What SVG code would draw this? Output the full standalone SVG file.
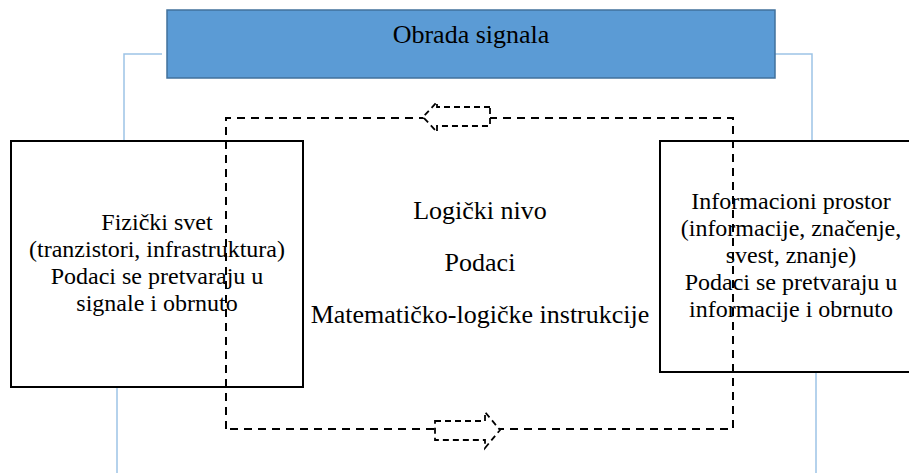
<svg xmlns="http://www.w3.org/2000/svg" width="909" height="473" viewBox="0 0 909 473">
<style>
.box{fill:none;stroke:#000;stroke-width:2}
.link{fill:none;stroke:#9DC3E6;stroke-width:1.5}
.dash{fill:none;stroke:#000;stroke-width:2;stroke-dasharray:8 6}
.arr{fill:#fff;stroke:#000;stroke-width:1.8;stroke-dasharray:6 4}
text{font-family:'Liberation Serif','Times New Roman',serif;text-anchor:middle;fill:#000}
.big{font-size:26px}
.mid{font-size:24px}
</style>
<rect width="909" height="473" fill="#fff"/>
<g id="connectors">
<path class="link" d="M162 54 H124 V141"/>
<path class="link" d="M775 54 H812 V141"/>
<path class="link" d="M117 388 V473"/>
<path class="link" d="M816 372 V473"/>
</g>
<g id="obrada">
<rect x="167" y="10" width="608" height="68" fill="#5B9BD5" stroke="#41719C" stroke-width="1.5"/>
<text class="big" x="471" y="43">Obrada signala</text>
</g>
<g id="fizicki">
<rect class="box" x="11" y="141" width="292" height="246"/>
<text class="mid" x="157" y="230">Fizički svet</text>
<text class="mid" x="157" y="257">(tranzistori, infrastruktura)</text>
<text class="mid" x="157" y="284">Podaci se pretvaraju u</text>
<text class="mid" x="157" y="311">signale i obrnuto</text>
</g>
<g id="informacioni">
<rect class="box" x="660" y="141" width="260" height="231"/>
<text class="mid" x="791" y="209">Informacioni prostor</text>
<text class="mid" x="791" y="236">(informacije, značenje,</text>
<text class="mid" x="791" y="263">svest, znanje)</text>
<text class="mid" x="791" y="290">Podaci se pretvaraju u</text>
<text class="mid" x="791" y="317">informacije i obrnuto</text>
</g>
<g id="logicki">
<text class="big" x="480" y="219">Logički nivo</text>
<text class="big" x="480" y="271">Podaci</text>
<text class="big" x="480" y="323">Matematičko-logičke instrukcije</text>
</g>
<g id="cycle">
<path class="dash" d="M226 429 V118 H733 V429 Z"/>
</g>
<g id="arrow-top">
<path class="arr" d="M490 107 H437 V102 L423 117 L437 132 V126 H490 Z"/>
</g>
<g id="arrow-bottom">
<path class="arr" d="M435 421 H485 V412 L500 430 L485 448 V440 H435 Z"/>
</g>
</svg>
